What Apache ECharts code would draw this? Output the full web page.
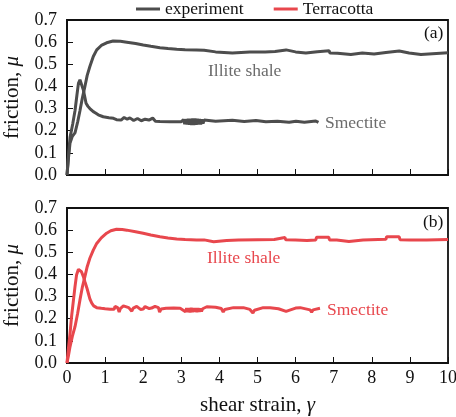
<!DOCTYPE html>
<html>
<head>
<meta charset="utf-8">
<script src="https://cdn.jsdelivr.net/npm/echarts@6/dist/echarts.min.js"></script>
<style>
  html, body { margin: 0; padding: 0; background: #fff; }
  #chart { width: 456px; height: 417px; }
</style>
</head>
<body>
<div id="chart"></div>
<script>
  // values: [shear strain, friction]
  var xTicks = [0, 1, 2, 3, 4, 5, 6, 7, 8, 9, 10]
  var yTicks = ['0.0', '0.1', '0.2', '0.3', '0.4', '0.5', '0.6', '0.7']

  var expIllite = [
    [0, 0], [0.04, 0.08], [0.08, 0.145], [0.14, 0.175], [0.21, 0.19], [0.28, 0.24], [0.34, 0.29],
    [0.4, 0.345], [0.47, 0.4], [0.53, 0.45], [0.6, 0.49], [0.69, 0.535], [0.78, 0.565], [0.9, 0.585],
    [1.04, 0.597], [1.21, 0.605], [1.4, 0.604], [1.57, 0.6], [1.8, 0.594], [2.0, 0.587], [2.2, 0.581],
    [2.44, 0.575], [2.65, 0.571], [2.88, 0.568], [3.1, 0.566], [3.4, 0.565], [3.6, 0.563], [3.62, 0.557],
    [3.9, 0.556], [3.93, 0.55], [4.34, 0.551], [4.36, 0.555], [4.8, 0.555], [5.2, 0.556], [5.46, 0.558],
    [5.48, 0.566], [5.75, 0.565], [5.77, 0.557], [6.0, 0.556], [6.03, 0.55], [6.27, 0.551], [6.29, 0.556],
    [6.57, 0.557], [6.59, 0.562], [6.88, 0.561], [6.9, 0.551], [7.1, 0.55], [7.12, 0.543], [7.45, 0.544],
    [7.47, 0.552], [7.75, 0.551], [7.77, 0.545], [8.06, 0.546], [8.08, 0.552], [8.37, 0.553], [8.39, 0.561],
    [8.72, 0.56], [8.74, 0.552], [8.98, 0.551], [9.0, 0.543], [9.29, 0.544], [9.31, 0.552], [10, 0.552]
  ]
  var expSmectite = [
    [0, 0], [0.04, 0.09], [0.08, 0.17], [0.15, 0.23], [0.21, 0.29], [0.26, 0.36], [0.3, 0.414], [0.34, 0.43],
    [0.38, 0.425], [0.43, 0.384], [0.47, 0.35], [0.5, 0.324], [0.55, 0.31], [0.6, 0.3], [0.65, 0.292],
    [0.69, 0.286], [0.75, 0.28], [0.82, 0.272], [0.95, 0.263], [1.1, 0.259], [1.22, 0.256], [1.3, 0.25],
    [1.35, 0.258], [1.42, 0.248], [1.5, 0.26], [1.58, 0.252], [1.65, 0.258], [1.75, 0.246], [1.85, 0.255],
    [1.95, 0.245], [2.05, 0.252], [2.15, 0.248], [2.25, 0.257], [2.32, 0.243], [2.44, 0.242], [2.7, 0.241],
    [3.0, 0.241], [3.03, 0.232], [3.06, 0.25], [3.09, 0.23], [3.12, 0.252], [3.15, 0.228], [3.18, 0.254],
    [3.21, 0.227], [3.24, 0.254], [3.27, 0.226], [3.3, 0.255], [3.33, 0.226], [3.36, 0.255], [3.39, 0.227],
    [3.42, 0.254], [3.45, 0.228], [3.48, 0.253], [3.51, 0.229], [3.54, 0.251], [3.57, 0.232], [3.6, 0.248],
    [3.62, 0.242], [3.9, 0.243], [3.93, 0.248], [4.34, 0.247], [4.36, 0.243], [4.65, 0.242], [4.67, 0.247],
    [4.96, 0.246], [4.98, 0.24], [5.22, 0.24], [5.24, 0.244], [5.52, 0.243], [5.54, 0.238], [5.83, 0.238],
    [5.85, 0.243], [6.01, 0.243], [6.03, 0.238], [6.23, 0.238], [6.25, 0.245], [6.53, 0.244], [6.55, 0.238],
    [6.6, 0.238]
  ]
  var tcIllite = [
    [0, 0], [0.04, 0.035], [0.08, 0.074], [0.14, 0.12], [0.21, 0.164], [0.28, 0.225], [0.34, 0.285],
    [0.4, 0.34], [0.47, 0.39], [0.53, 0.435], [0.6, 0.473], [0.69, 0.51], [0.78, 0.54], [0.9, 0.565],
    [1.04, 0.586], [1.15, 0.597], [1.3, 0.604], [1.45, 0.603], [1.57, 0.6], [1.8, 0.593], [2.0, 0.586],
    [2.2, 0.578], [2.44, 0.57], [2.65, 0.565], [2.88, 0.56], [3.1, 0.558], [3.4, 0.556], [3.6, 0.556],
    [3.62, 0.548], [3.85, 0.548], [3.87, 0.553], [4.19, 0.553], [4.5, 0.555], [5.0, 0.557], [5.44, 0.558],
    [5.46, 0.567], [5.72, 0.567], [5.74, 0.557], [6.0, 0.556], [6.03, 0.55], [6.3, 0.553], [6.53, 0.556],
    [6.55, 0.568], [6.87, 0.568], [6.89, 0.556], [7.08, 0.555], [7.1, 0.546], [7.4, 0.549], [7.77, 0.556],
    [8.37, 0.559], [8.39, 0.57], [8.72, 0.57], [8.74, 0.557], [9.0, 0.556], [9.02, 0.549], [9.44, 0.555],
    [10, 0.558]
  ]
  var tcSmectite = [
    [0, 0], [0.04, 0.07], [0.08, 0.134], [0.12, 0.21], [0.17, 0.285], [0.21, 0.345], [0.25, 0.397],
    [0.3, 0.423], [0.34, 0.42], [0.38, 0.412], [0.43, 0.39], [0.47, 0.367], [0.52, 0.34], [0.56, 0.315],
    [0.6, 0.29], [0.65, 0.27], [0.7, 0.258], [0.78, 0.25], [0.9, 0.247], [1.0, 0.245], [1.13, 0.243],
    [1.24, 0.243], [1.26, 0.256], [1.33, 0.25], [1.37, 0.23], [1.4, 0.246], [1.48, 0.258], [1.62, 0.25],
    [1.7, 0.234], [1.74, 0.248], [1.83, 0.256], [1.93, 0.242], [1.97, 0.238], [2.0, 0.244], [2.05, 0.255],
    [2.16, 0.246], [2.19, 0.238], [2.22, 0.248], [2.31, 0.256], [2.4, 0.25], [2.43, 0.23], [2.47, 0.244],
    [2.6, 0.247], [2.8, 0.248], [2.97, 0.247], [3.05, 0.238], [3.08, 0.246], [3.11, 0.231], [3.14, 0.247],
    [3.17, 0.23], [3.2, 0.248], [3.23, 0.229], [3.26, 0.249], [3.29, 0.23], [3.32, 0.248], [3.35, 0.231],
    [3.38, 0.247], [3.41, 0.23], [3.44, 0.248], [3.47, 0.232], [3.5, 0.246], [3.53, 0.233], [3.56, 0.245],
    [3.6, 0.238], [3.67, 0.254], [3.9, 0.252], [4.05, 0.246], [4.1, 0.23], [4.14, 0.242], [4.37, 0.25],
    [4.63, 0.25], [4.8, 0.242], [4.88, 0.226], [4.92, 0.238], [5.15, 0.25], [5.33, 0.25], [5.55, 0.245],
    [5.75, 0.233], [5.8, 0.24], [6.0, 0.248], [6.12, 0.25], [6.38, 0.24], [6.42, 0.23], [6.46, 0.24],
    [6.64, 0.247]
  ]

  var expColor = '#4d4d4d'
  var expTextColor = '#6b6b6b'
  var tcColor = '#e8474d'
  var font = 'Liberation Serif'

  var chart = echarts.init(document.getElementById('chart'))

  function xAxisOpt(gridIndex, showLabels) {
    return {
      type: 'value',
      gridIndex: gridIndex,
      min: 0,
      max: 10,
      interval: 1,
      name: showLabels ? 'shear strain, {i|γ}' : '',
      nameLocation: 'middle',
      nameGap: 32,
      nameTextStyle: {
        color: '#111', fontFamily: font, fontSize: 21,
        rich: { i: { fontStyle: 'italic', fontFamily: font, fontSize: 21, color: '#111' } }
      },
      axisLine: { show: true, lineStyle: { color: '#111', width: 1.8 } },
      axisTick: { show: true, inside: true, length: 6, lineStyle: { color: '#111', width: 1 } },
      axisLabel: {
        show: showLabels, color: '#111', fontFamily: font, fontSize: 18, margin: 6,
        formatter: function (v) { return xTicks.indexOf(v) >= 0 ? String(v) : '' }
      },
      splitLine: { show: false }
    }
  }

  function yAxisOpt(gridIndex) {
    return {
      type: 'value',
      gridIndex: gridIndex,
      min: 0,
      max: 0.7,
      interval: 0.1,
      name: 'friction, {i|μ}',
      nameLocation: 'middle',
      nameRotate: 90,
      nameGap: 44,
      nameTextStyle: {
        color: '#111', fontFamily: font, fontSize: 21,
        rich: { i: { fontStyle: 'italic', fontFamily: font, fontSize: 21, color: '#111' } }
      },
      axisLine: { show: true, lineStyle: { color: '#111', width: 1.8 } },
      axisTick: { show: true, inside: true, length: 6, lineStyle: { color: '#111', width: 1 } },
      axisLabel: {
        color: '#111', fontFamily: font, fontSize: 18, margin: 10,
        formatter: function (v) { return yTicks[Math.round(v * 10)] }
      },
      splitLine: { show: false }
    }
  }

  function lineSeries(name, data, color, idx) {
    return {
      name: name,
      type: 'line',
      xAxisIndex: idx,
      yAxisIndex: idx,
      data: data,
      showSymbol: false,
      symbol: 'none',
      lineStyle: { color: color, width: 3 },
      itemStyle: { color: color }
    }
  }

  function label(text, x, y, color) {
    return {
      type: 'text', x: x, y: y,
      style: { text: text, font: '17.5px ' + font, fill: color, verticalAlign: 'middle' }
    }
  }

  chart.setOption({
    animation: false,
    legend: {
      data: ['experiment', 'Terracotta'],
      top: -5,
      left: 131,
      icon: 'rect',
      itemWidth: 24,
      itemHeight: 3,
      itemGap: 30,
      textStyle: { color: '#111', fontFamily: font, fontSize: 17.5 }
    },
    grid: [
      {
        left: 67, top: 20, width: 381, height: 155, outerBoundsMode: 'none', containLabel: false,
        show: true, borderColor: '#111', borderWidth: 1.8
      },
      {
        left: 67, top: 208, width: 381, height: 155, outerBoundsMode: 'none', containLabel: false,
        show: true, borderColor: '#111', borderWidth: 1.8
      }
    ],
    xAxis: [xAxisOpt(0, false), xAxisOpt(1, true)],
    yAxis: [yAxisOpt(0), yAxisOpt(1)],
    graphic: [
      label('(a)', 424, 33, '#111'),
      label('(b)', 423, 222, '#111'),
      label('Illite shale', 208, 71, expTextColor),
      label('Smectite', 325, 123, expTextColor),
      label('Illite shale', 207, 258, tcColor),
      label('Smectite', 327, 310, tcColor)
    ],
    series: [
      lineSeries('experiment', expIllite, expColor, 0),
      lineSeries('experiment', expSmectite, expColor, 0),
      lineSeries('Terracotta', tcIllite, tcColor, 1),
      lineSeries('Terracotta', tcSmectite, tcColor, 1)
    ]
  })
</script>
</body>
</html>
